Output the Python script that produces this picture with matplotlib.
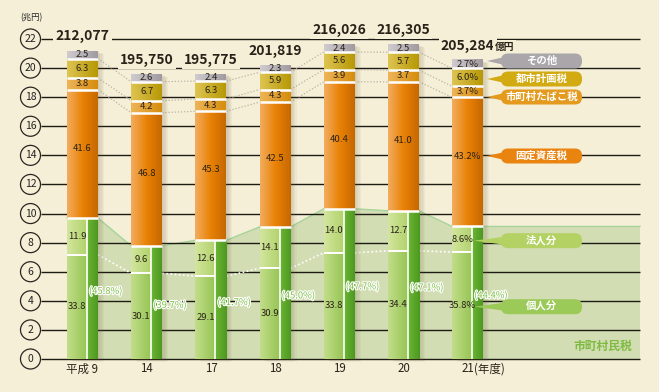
import matplotlib
matplotlib.use('Agg')
import matplotlib.pyplot as plt
import matplotlib.patheffects as pe
import numpy as np
from matplotlib.patches import Ellipse, FancyBboxPatch, Polygon
from matplotlib.colors import LinearSegmentedColormap

plt.rcParams['font.family'] = ['Noto Sans CJK JP', 'DejaVu Sans']

# data (shares in %, totals in 億円)
years = ['平成 9', '14', '17', '18', '19', '20', '21']
totals = [212077, 195750, 195775, 201819, 216026, 216305, 205284]
kojin = [33.8, 30.1, 29.1, 30.9, 33.8, 34.4, 35.8]      # 個人分
hojin = [11.9, 9.6, 12.6, 14.1, 14.0, 12.7, 8.6]        # 法人分
shichoson = [45.8, 39.7, 41.7, 45.0, 47.7, 47.1, 44.4]  # 市町村民税
kotei = [41.6, 46.8, 45.3, 42.5, 40.4, 41.0, 43.2]      # 固定資産税
tabako = [3.8, 4.2, 4.3, 4.3, 3.9, 3.7, 3.7]            # 市町村たばこ税
toshi = [6.3, 6.7, 6.3, 5.9, 5.6, 5.7, 6.0]             # 都市計画税
sonota = [2.5, 2.6, 2.4, 2.3, 2.4, 2.5, 2.7]            # その他
yticks = list(range(0, 23, 2))

bg = '#f5efd8'

# pixel helpers for layout only
DX = 64.2
DY = 320 / 22
def px2x(p):
    return (p - 82.5) / DX
def py2y(p):
    return (359 - p) / DY

fig = plt.figure(figsize=(6.59, 3.92), dpi=100)
fig.patch.set_facecolor(bg)
ax = fig.add_axes([0, 0, 1, 1])
ax.set_facecolor(bg)

x = np.arange(len(years))
T = np.array(totals) / 10000.0  # 兆円
kojin_h = T * np.array(kojin) / 100
hojin_h = T * np.array(hojin) / 100
muni_h = kojin_h + hojin_h
kotei_h = T * np.array(kotei) / 100
tabako_h = T * np.array(tabako) / 100
toshi_h = T * np.array(toshi) / 100
sonota_h = T * np.array(sonota) / 100
b_kotei = muni_h
b_tabako = b_kotei + kotei_h
b_toshi = b_tabako + tabako_h
b_sonota = b_toshi + toshi_h
tops = b_sonota + sonota_h

W = 31 / DX
WL = 20 / DX
left = x - W / 2
right = x + W / 2

# shaded 市町村民税 band
pts = []
for i in range(len(x)):
    pts += [(left[i], muni_h[i]), (right[i], muni_h[i])]
xr = px2x(640)
pts += [(xr, muni_h[-1]), (xr, 0), (left[0], 0)]
ax.add_patch(Polygon(pts, closed=True, facecolor='#d3ddb4', edgecolor='none', zorder=1))
ax.plot([p[0] for p in pts[:-2]], [p[1] for p in pts[:-2]], color='#a6d49a', lw=1, zorder=1.5)

# gridlines and tick circles
ax.hlines(yticks, px2x(41), xr, color='#1e1a14', lw=1.0, zorder=2)
for v in yticks:
    ax.add_patch(Ellipse((px2x(30.5), v), 20 / DX, 20 / DY, facecolor=bg,
                         edgecolor='#2a2520', lw=0.9, zorder=2))
    ax.text(px2x(30.5), v, str(v), ha='center', va='center', fontsize=7.5,
            color='#222', zorder=3)
ax.text(px2x(31), py2y(18), '(兆円)', ha='center', va='center', fontsize=6, color='#222')

# dotted connectors between bars
for bnd, col, lw in [(b_tabako, '#b9b4a6', 0.9), (b_toshi, '#b9b4a6', 0.9),
                     (b_sonota, '#b9b4a6', 0.9), (kojin_h, 'white', 1.2)]:
    for i in range(len(x) - 1):
        ax.plot([right[i], left[i + 1]], [bnd[i], bnd[i + 1]], ls=(0, (1, 1.5)),
                color=col, lw=lw, zorder=2.5)

# soft shadows
for i in range(len(x)):
    for k in range(1, 6):
        ax.add_patch(plt.Rectangle((left[i] + k * 1.2 / DX, -k * 0.6 / DY), W, tops[i],
                                   facecolor='#6a5a3a', alpha=0.05, edgecolor='none', zorder=2.6))

def grad(patches, colors):
    cmap = LinearSegmentedColormap.from_list('g', colors)
    for p in patches:
        x0, y0, w, h = p.get_x(), p.get_y(), p.get_width(), p.get_height()
        ax.imshow(np.linspace(0, 1, 64).reshape(1, -1), cmap=cmap, aspect='auto',
                  extent=(x0, x0 + w, y0, y0 + h), interpolation='bilinear',
                  zorder=3.1)

bars = ax.bar(left, kojin_h, WL, align='edge', color='#a8d068', zorder=3)
grad(bars, ['#c2dd8a', '#96c554'])
bars = ax.bar(left, hojin_h, WL, bottom=kojin_h, align='edge', color='#c0dc88', zorder=3)
grad(bars, ['#d2e69e', '#b2d26c'])
bars = ax.bar(left + WL, muni_h, W - WL, align='edge', color='#5ea82a', zorder=3)
grad(bars, ['#6cb634', '#4c9820'])
bars = ax.bar(x, kotei_h, W, bottom=b_kotei, color='#e88000', zorder=3)
grad(bars, ['#f2ac5e', '#e98206', '#c66800'])
bars = ax.bar(x, tabako_h, W, bottom=b_tabako, color='#e0a030', zorder=3)
grad(bars, ['#efb458', '#d58d0c'])
bars = ax.bar(x, toshi_h, W, bottom=b_toshi, color='#d0b030', zorder=3)
grad(bars, ['#dec452', '#b79806'])
bars = ax.bar(x, sonota_h, W, bottom=b_sonota, color='#b8b4b8', zorder=3)
grad(bars, ['#cfcbcf', '#9f9ba1'])

# white separators
for bnd in [muni_h, b_tabako, b_toshi, b_sonota]:
    ax.hlines(bnd, left, right, color='white', lw=1.8, zorder=4)
ax.hlines(kojin_h, left, left + WL, color='white', lw=1.4, zorder=4)
ax.vlines(left + WL, 0, muni_h, color='white', lw=1.2, zorder=4)

# segment labels
lab = dict(fontsize=6.8, color='#2a2218', ha='center', va='center', zorder=5)
for i in range(len(x)):
    s = '%' if i == len(x) - 1 else ''
    xc = left[i] + WL / 2
    ax.text(xc, kojin_h[i] / 2, f'{kojin[i]:.1f}{s}', **lab)
    ax.text(xc, kojin_h[i] + hojin_h[i] / 2, f'{hojin[i]:.1f}{s}', **lab)
    ax.text(x[i], b_kotei[i] + kotei_h[i] / 2 + 0.4, f'{kotei[i]:.1f}{s}', **lab)
    ax.text(x[i], b_tabako[i] + tabako_h[i] / 2, f'{tabako[i]:.1f}{s}', **lab)
    ax.text(x[i], b_toshi[i] + toshi_h[i] / 2, f'{toshi[i]:.1f}{s}', **lab)
    ax.text(x[i], b_sonota[i] + sonota_h[i] / 2, f'{sonota[i]:.1f}{s}', **lab)
    ax.text(left[i] + WL + 2 / DX, muni_h[i] / 2 - 0.2, f'({shichoson[i]:.1f}%)', fontsize=6.8,
            color='#7cc046', ha='left', va='center', zorder=6,
            path_effects=[pe.withStroke(linewidth=1.6, foreground='white')])

# totals
for i in range(len(x)):
    t = ax.text(x[i], tops[i] + 1.0, f'{totals[i]:,}', ha='center', va='center',
                fontsize=10, fontweight='bold', color='#2a2218', zorder=6,
                bbox=dict(facecolor=bg, edgecolor='none', pad=1.5))
ax.annotate('億円', xy=(1, 0.45), xycoords=t, ha='left', va='center', fontsize=7,
            fontweight='bold', color='#2a2218', zorder=6,
            bbox=dict(facecolor=bg, edgecolor='none', pad=1.5))

# year labels
for i in range(len(x)):
    yl = ax.text(x[i], py2y(369), years[i], ha='center', va='center', fontsize=8.3,
                 color='#2a2218')
ax.annotate('(年度)', xy=(1, 0.5), xycoords=yl, ha='left', va='center', fontsize=8.3,
            color='#2a2218')

# callouts
callouts = [('その他', '#aaa6aa', py2y(61), 487),
            ('都市計画税', '#d2aa12', py2y(79), 487),
            ('市町村たばこ税', '#e39a1e', py2y(97), 487),
            ('固定資産税', '#ea8410', py2y(156), 487),
            ('法人分', '#b4d264', py2y(240.7), 474),
            ('個人分', '#9cca58', py2y(306.7), 474)]
bx0, bx1 = px2x(501), px2x(582)
bh = 15 / DY
for name, col, yc, tip in callouts:
    ax.add_patch(Polygon([(px2x(tip), yc), (bx0 + 4 / DX, yc + 0.28), (bx0 + 4 / DX, yc - 0.28)],
                         closed=True, facecolor=col, edgecolor='none', zorder=6))
    ax.add_patch(FancyBboxPatch((bx0, yc - bh / 2), bx1 - bx0, bh,
                                boxstyle='round,pad=0,rounding_size=%f' % (7 / DX),
                                mutation_aspect=DX / DY, facecolor=col,
                                edgecolor='none', zorder=6))
    ax.text((bx0 + bx1) / 2, yc, name, ha='center', va='center', fontsize=7.5,
            fontweight='bold', color='white', zorder=7)

ax.text(px2x(603), py2y(346), '市町村民税', ha='center', va='center', fontsize=8.5,
        fontweight='bold', color='#7fbb40', zorder=5)

ax.set_xlim(px2x(0), px2x(659))
ax.set_ylim(py2y(392), py2y(0))
ax.axis('off')

fig.savefig('out.png', dpi=100, facecolor=bg)
